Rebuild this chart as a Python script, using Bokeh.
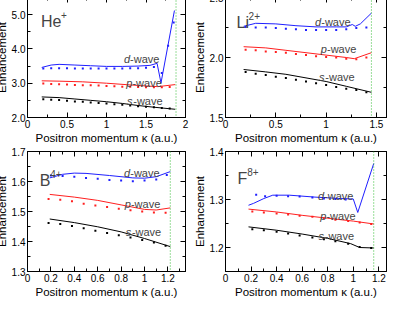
from bokeh.plotting import figure
from bokeh.models import LinearAxis, FixedTicker, Span, Label, Range1d
from bokeh.layouts import row, column
from bokeh.embed import file_html
from bokeh.resources import INLINE

FONT = "Liberation Sans"

# ---------------- data ----------------
# He+
he_pts_k = [0.2, 0.3, 0.4, 0.5, 0.6, 0.7, 0.8, 0.9, 1.0, 1.1, 1.2, 1.3, 1.4, 1.5, 1.6, 1.7, 1.8]
he_s_pts = [2.53, 2.52, 2.51, 2.49, 2.47, 2.46, 2.44, 2.42, 2.41, 2.39, 2.37, 2.35, 2.33, 2.31, 2.30, 2.28, 2.26]
he_p_pts = [2.99, 2.98, 2.97, 2.96, 2.95, 2.94, 2.94, 2.93, 2.92, 2.91, 2.90, 2.90, 2.89, 2.88, 2.88, 2.88, 2.89]
he_d_pts_k = [0.2, 0.3, 0.4, 0.5, 0.6, 0.7, 0.8, 0.9, 1.0, 1.1, 1.2, 1.3, 1.4, 1.5, 1.6, 1.7, 1.78, 1.85]
he_d_pts = [3.43, 3.44, 3.44, 3.44, 3.43, 3.43, 3.43, 3.43, 3.43, 3.43, 3.43, 3.44, 3.44, 3.45, 3.47, 3.30, 4.09, 4.77]
he_s_line_k = [0.18, 0.4, 0.6, 0.8, 1.0, 1.2, 1.4, 1.6, 1.87]
he_s_line = [2.60, 2.58, 2.54, 2.50, 2.46, 2.41, 2.35, 2.30, 2.24]
he_p_line_k = [0.18, 0.4, 0.7, 1.0, 1.3, 1.5, 1.65, 1.87]
he_p_line = [3.07, 3.06, 3.04, 3.00, 2.95, 2.92, 2.90, 2.96]
he_d_line_k = [0.18, 0.3, 0.4, 0.6, 0.8, 1.0, 1.2, 1.4, 1.55, 1.64, 1.69, 1.86]
he_d_line = [3.46, 3.53, 3.55, 3.53, 3.51, 3.49, 3.49, 3.50, 3.52, 3.58, 3.01, 5.12]

# Li2+
li_pts_k = [0.2, 0.3, 0.4, 0.5, 0.6, 0.7, 0.8, 0.9, 1.0, 1.1, 1.2, 1.3, 1.4]
li_s_pts = [1.88, 1.865, 1.855, 1.84, 1.83, 1.815, 1.80, 1.785, 1.77, 1.755, 1.74, 1.73, 1.71]
li_p_pts = [2.065, 2.06, 2.05, 2.045, 2.04, 2.03, 2.02, 2.01, 2.005, 2.0, 1.99, 1.985, 2.0]
li_d_pts = [2.255, 2.25, 2.25, 2.245, 2.24, 2.235, 2.23, 2.23, 2.23, 2.23, 2.235, 2.245, 2.25]
li_s_line_k = [0.18, 0.4, 0.6, 0.8, 1.0, 1.2, 1.45]
li_s_line = [1.90, 1.88, 1.86, 1.83, 1.80, 1.76, 1.71]
li_p_line_k = [0.18, 0.4, 0.6, 0.8, 1.0, 1.2, 1.28, 1.45]
li_p_line = [2.09, 2.08, 2.06, 2.04, 2.02, 2.0, 1.99, 2.04]
li_d_line_k = [0.18, 0.3, 0.5, 0.7, 0.9, 1.1, 1.2, 1.26, 1.29, 1.34, 1.45]
li_d_line = [2.26, 2.285, 2.28, 2.265, 2.255, 2.255, 2.255, 2.275, 2.26, 2.28, 2.37]

# B4+
b_pts_k = [0.18, 0.28, 0.38, 0.48, 0.58, 0.68, 0.78, 0.88, 0.98, 1.08, 1.18]
b_s_pts = [1.462, 1.458, 1.452, 1.444, 1.436, 1.428, 1.421, 1.413, 1.405, 1.397, 1.386]
b_p_pts = [1.542, 1.539, 1.534, 1.526, 1.520, 1.515, 1.509, 1.504, 1.500, 1.497, 1.496]
b_d_pts_k = [0.2, 0.3, 0.4, 0.5, 0.6, 0.7, 0.8, 0.9, 1.0, 1.1, 1.19]
b_d_pts = [1.620, 1.618, 1.616, 1.612, 1.609, 1.605, 1.603, 1.601, 1.603, 1.607, 1.622]
b_s_line_k = [0.19, 0.4, 0.6, 0.8, 1.0, 1.22]
b_s_line = [1.475, 1.463, 1.449, 1.432, 1.410, 1.383]
b_p_line_k = [0.19, 0.4, 0.6, 0.8, 1.0, 1.1, 1.22]
b_p_line = [1.557, 1.548, 1.537, 1.522, 1.507, 1.505, 1.512]
b_d_line_k = [0.19, 0.3, 0.4, 0.5, 0.7, 0.9, 1.0, 1.1, 1.22]
b_d_line = [1.612, 1.624, 1.628, 1.627, 1.620, 1.612, 1.611, 1.616, 1.633]

# F8+
f_pts_k = [0.21, 0.30, 0.40, 0.49, 0.58, 0.68, 0.77, 0.86, 0.96, 1.05, 1.14]
f_s_pts = [1.238, 1.236, 1.233, 1.229, 1.225, 1.221, 1.217, 1.213, 1.208, 1.201, 1.199]
f_p_pts = [1.275, 1.273, 1.271, 1.269, 1.266, 1.264, 1.261, 1.258, 1.255, 1.252, 1.249]
f_d_pts_k = [0.24, 0.31, 0.40, 0.49, 0.58, 0.68, 0.77, 0.86, 0.94]
f_d_pts = [1.310, 1.307, 1.308, 1.307, 1.306, 1.304, 1.302, 1.301, 1.300]
f_s_line_k = [0.18, 0.4, 0.6, 0.8, 0.98, 1.05, 1.16]
f_s_line = [1.243, 1.236, 1.228, 1.219, 1.208, 1.200, 1.199]
f_p_line_k = [0.18, 0.4, 0.6, 0.8, 1.0, 1.16]
f_p_line = [1.280, 1.274, 1.267, 1.261, 1.255, 1.249]
f_d_line_k = [0.18, 0.22, 0.3, 0.37, 0.5, 0.7, 0.9, 1.0, 1.035, 1.16]
f_d_line = [1.288, 1.292, 1.302, 1.309, 1.309, 1.305, 1.302, 1.301, 1.273, 1.375]

# thresholds (green dotted)
thresholds = [1.88, 1.45, 1.22, 1.16]

# ticks
he_xticks = [0, 0.5, 1.0, 1.5, 2.0]
he_xlabels = ["0", "0.5", "1", "1.5", "2"]
he_xminor = [0.25, 0.75, 1.25, 1.75]
he_yticks = [2.0, 3.0, 4.0, 5.0]
he_ylabels = ["2.0", "3.0", "4.0", "5.0"]
he_yminor = [2.5, 3.5, 4.5, 5.5]

li_xticks = [0, 0.5, 1.0, 1.5]
li_xlabels = ["0", "0.5", "1", "1.5"]
li_xminor = [0.25, 0.75, 1.25]
li_yticks = [1.5, 2.0, 2.5]
li_ylabels = ["1.5", "2.0", "2.5"]
li_yminor = [1.75, 2.25]

b_xticks = [0, 0.2, 0.4, 0.6, 0.8, 1.0, 1.2]
b_xlabels = ["0", "0.2", "0.4", "0.6", "0.8", "1", "1.2"]
b_xminor = [0.1, 0.3, 0.5, 0.7, 0.9, 1.1, 1.3]
b_yticks = [1.3, 1.4, 1.5, 1.6, 1.7]
b_ylabels = ["1.3", "1.4", "1.5", "1.6", "1.7"]
b_yminor = [1.35, 1.45, 1.55, 1.65]

f_xticks = [0, 0.2, 0.4, 0.6, 0.8, 1.0, 1.2]
f_xlabels = ["0", "0.2", "0.4", "0.6", "0.8", "1", "1.2"]
f_xminor = [0.1, 0.3, 0.5, 0.7, 0.9, 1.1]
f_yticks = [1.2, 1.3, 1.4]
f_ylabels = ["1.2", "1.3", "1.4"]
f_yminor = [1.25, 1.35]

BLUE = "#1f1fff"
RED = "#ff1f1f"
BLACK = "#000000"
GREEN = "#33bb33"


def style_axis(ax, ticks, minor, labels, show_labels=True):
    ax.ticker = FixedTicker(ticks=ticks, minor_ticks=minor)
    ax.major_tick_in = 5
    ax.major_tick_out = 0
    ax.minor_tick_in = 3
    ax.minor_tick_out = 0
    ax.axis_line_color = "black"
    ax.major_tick_line_color = "black"
    ax.minor_tick_line_color = "black"
    if show_labels:
        ax.major_label_overrides = {t: l for t, l in zip(ticks, labels)}
        ax.major_label_text_font = FONT
        ax.major_label_text_font_size = "10px"
        ax.major_label_text_color = "black"
        ax.major_label_standoff = 2
        ax.axis_label_text_font = FONT
        ax.axis_label_text_font_size = "11.5px"
        ax.axis_label_text_font_style = "normal"
        ax.axis_label_text_color = "black"
        ax.axis_label_standoff = 1
    else:
        ax.major_label_text_font_size = "0px"
        ax.major_label_standoff = 0


def panel(xr, yr, xt, xm, xl, yt, ym, yl, width, height, bl, br, bt, bb):
    p = figure(width=width, height=height, x_range=Range1d(*xr), y_range=Range1d(*yr),
               output_backend="svg", toolbar_location=None,
               min_border_left=bl, min_border_right=br, min_border_top=bt, min_border_bottom=bb,
               x_axis_label="Positron momentum κ (a.u.)", y_axis_label="Enhancement")
    p.grid.visible = False
    p.outline_line_color = "black"
    p.background_fill_color = "white"
    p.border_fill_color = "white"
    style_axis(p.xaxis[0], xt, xm, xl)
    style_axis(p.yaxis[0], yt, ym, yl)
    top = LinearAxis()
    style_axis(top, xt, xm, xl, show_labels=False)
    p.add_layout(top, "above")
    right = LinearAxis()
    style_axis(right, yt, ym, yl, show_labels=False)
    p.add_layout(right, "right")
    return p


def draw(p, thr, lines, pts):
    p.add_layout(Span(location=thr, dimension="height", line_color=GREEN,
                      line_dash="1 2", line_width=1))
    for (k, v), c in zip(lines, [BLACK, RED, BLUE]):
        p.line(k, v, line_color=c, line_width=1)
    for (k, v), c in zip(pts, [BLACK, RED, BLUE]):
        p.scatter(k, v, marker="square", size=2, fill_color=c, line_color=None)


def wave_labels(p, pos):
    for letter, (x, y) in zip(["s", "p", "d"], pos):
        p.add_layout(Label(x=x, y=y, text=letter, text_font=FONT, text_font_size="11px",
                           text_font_style="italic", text_baseline="alphabetic", text_align="left"))
        p.add_layout(Label(x=x, y=y, x_offset=6.2, text="-wave", text_font=FONT,
                           text_font_size="11px", text_baseline="alphabetic", text_align="left"))


def element_label(p, main, sup, x, y, w):
    p.add_layout(Label(x=x, y=y, text=main, text_font=FONT, text_font_size="16px",
                       text_baseline="alphabetic", text_align="left"))
    p.add_layout(Label(x=x, y=y, x_offset=w, y_offset=7, text=sup, text_font=FONT,
                       text_font_size="10px", text_baseline="alphabetic", text_align="left"))


p1 = panel((0, 2.0), (2.0, 5.5), he_xticks, he_xminor, he_xlabels, he_yticks, he_yminor, he_ylabels,
           198, 155, 32, 5, 5, 30)
draw(p1, thresholds[0],
     [(he_s_line_k, he_s_line), (he_p_line_k, he_p_line), (he_d_line_k, he_d_line)],
     [(he_pts_k, he_s_pts), (he_pts_k, he_p_pts), (he_d_pts_k, he_d_pts)])
wave_labels(p1, [(1.26, 2.49), (1.25, 3.02), (1.22, 3.70)])
element_label(p1, "He", "+", 0.17, 4.79, 20)

p2 = panel((0, 1.6), (1.5, 2.5), li_xticks, li_xminor, li_xlabels, li_yticks, li_yminor, li_ylabels,
           201, 155, 34, 5, 5, 30)
draw(p2, thresholds[1],
     [(li_s_line_k, li_s_line), (li_p_line_k, li_p_line), (li_d_line_k, li_d_line)],
     [(li_pts_k, li_s_pts), (li_pts_k, li_p_pts), (li_pts_k, li_d_pts)])
wave_labels(p2, [(0.93, 1.839), (0.947, 2.07), (0.89, 2.299)])
element_label(p2, "Li", "2+", 0.11, 2.29, 12)

p3 = panel((0, 1.35), (1.3, 1.7), b_xticks, b_xminor, b_xlabels, b_yticks, b_yminor, b_ylabels,
           198, 154, 32, 5, 4, 30)
draw(p3, thresholds[2],
     [(b_s_line_k, b_s_line), (b_p_line_k, b_p_line), (b_d_line_k, b_d_line)],
     [(b_pts_k, b_s_pts), (b_pts_k, b_p_pts), (b_d_pts_k, b_d_pts)])
wave_labels(p3, [(0.839, 1.432), (0.831, 1.526), (0.825, 1.628)])
element_label(p3, "B", "4+", 0.105, 1.603, 10.5)

p4 = panel((0, 1.26), (1.15, 1.4), f_xticks, f_xminor, f_xlabels, f_yticks, f_yminor, f_ylabels,
           201, 154, 34, 5, 4, 30)
draw(p4, thresholds[3],
     [(f_s_line_k, f_s_line), (f_p_line_k, f_p_line), (f_d_line_k, f_d_line)],
     [(f_pts_k, f_s_pts), (f_pts_k, f_p_pts), (f_d_pts_k, f_d_pts)])
wave_labels(p4, [(0.728, 1.223), (0.741, 1.265), (0.723, 1.307)])
element_label(p4, "F", "8+", 0.094, 1.343, 9.8)

layout = column(row(p1, p2), row(p3, p4),
                styles={"position": "relative", "left": "-8px", "top": "-8px",
                        "margin-bottom": "-16px", "margin-right": "-16px"})

open("out.html", "w").write(file_html(layout, INLINE))
